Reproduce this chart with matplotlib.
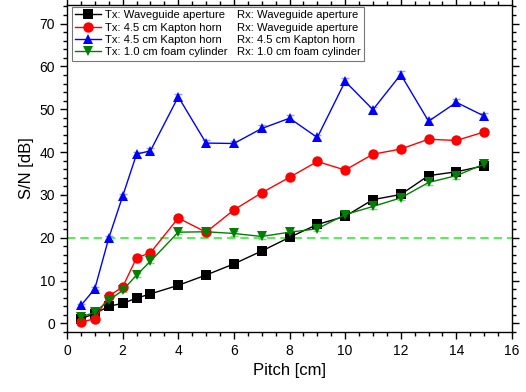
import matplotlib.pyplot as plt
from matplotlib.lines import Line2D
from matplotlib.ticker import MultipleLocator

plt.rcParams['font.family'] = ['Liberation Sans', 'DejaVu Sans']

pitch = [0.5, 1, 1.5, 2, 2.5, 3, 4, 5, 6, 7, 8, 9, 10, 11, 12, 13, 14, 15]

sn_waveguide = [1.1, 2.3, 4.0, 4.7, 5.9, 6.9, 8.9, 11.3, 13.9, 16.9, 20.1, 23.1, 25.0, 28.9, 30.1, 34.5, 35.4, 36.8]
sn_kapton_wg = [0.3, 1.1, 6.4, 8.5, 15.3, 16.5, 24.6, 21.3, 26.5, 30.5, 34.1, 37.8, 35.8, 39.5, 40.7, 43.0, 42.7, 44.7]
sn_kapton_kapton = [4.2, 8.1, 19.9, 29.7, 39.5, 40.3, 52.9, 42.1, 42.0, 45.5, 47.9, 43.4, 56.5, 49.9, 58.1, 47.2, 51.6, 48.4]
sn_foam = [1.5, 2.6, 5.4, 7.7, 11.3, 14.5, 21.3, 21.4, 21.0, 20.3, 21.3, 22.1, 25.4, 27.3, 29.3, 32.9, 34.5, 37.2]

err_waveguide = [0.4, 0.4, 0.4, 0.4, 0.4, 0.4, 0.4, 0.4, 0.4, 0.4, 0.5, 0.5, 0.5, 0.6, 0.6, 0.6, 0.6, 0.7]
err_kapton_wg = [0.4, 0.4, 0.4, 0.4, 0.4, 0.4, 0.5, 0.5, 0.5, 0.5, 0.6, 0.6, 0.6, 0.6, 0.6, 0.6, 0.6, 0.7]
err_kapton_kapton = [0.4, 0.4, 0.5, 0.5, 0.6, 0.6, 0.7, 0.6, 0.6, 0.7, 0.7, 0.6, 0.8, 0.7, 0.8, 0.7, 0.7, 0.7]
err_foam = [0.4, 0.4, 0.4, 0.4, 0.4, 0.5, 0.5, 0.5, 0.5, 0.5, 0.5, 0.6, 0.6, 0.6, 0.6, 0.7, 0.7, 0.8]

tx_labels = ["Tx: Waveguide aperture", "Tx: 4.5 cm Kapton horn",
             "Tx: 4.5 cm Kapton horn", "Tx: 1.0 cm foam cylinder"]
rx_labels = ["Rx: Waveguide aperture", "Rx: Waveguide aperture",
             "Rx: 4.5 cm Kapton horn", "Rx: 1.0 cm foam cylinder"]

threshold = 20

fig = plt.figure(figsize=(5.26, 3.92), dpi=100)
ax = fig.add_axes([0.1274, 0.153, 0.846, 0.834])

series = [
    (sn_waveguide, err_waveguide, 'black', '#888888', 's', 6.5),
    (sn_kapton_wg, err_kapton_wg, 'red', '#ff9999', 'o', 7.5),
    (sn_kapton_kapton, err_kapton_kapton, 'blue', '#9999ff', '^', 7.5),
    (sn_foam, err_foam, 'green', '#88cc88', 'v', 7.5),
]

handles = []
for (vals, errs, col, ecol, mk, ms), lab in zip(series, tx_labels):
    ax.errorbar(pitch, vals, yerr=errs, fmt='none', ecolor=ecol, elinewidth=1,
                capsize=3, capthick=1, zorder=2)
    h, = ax.plot(pitch, vals, color=col, marker=mk, markersize=ms, lw=1,
                 markeredgewidth=0, zorder=3, label=lab)
    handles.append(h)

ax.axhline(threshold, color='#33ee33', ls=(0, (5, 3)), lw=1.2, zorder=1)

ax.set_xlim(0, 16)
ax.set_ylim(-2, 74.3)
ax.xaxis.set_major_locator(MultipleLocator(2))
ax.xaxis.set_minor_locator(MultipleLocator(0.5))
ax.yaxis.set_major_locator(MultipleLocator(10))
ax.yaxis.set_minor_locator(MultipleLocator(2))
ax.tick_params(which='both', direction='out', top=True, right=True, labelsize=10)
ax.tick_params(which='major', length=5, width=1)
ax.tick_params(which='minor', length=3, width=1)
for s in ax.spines.values():
    s.set_linewidth(1)

ax.set_xlabel("Pitch [cm]", fontsize=12)
ax.set_ylabel("S/N [dB]", fontsize=12)

blank = [Line2D([], [], lw=0, marker=None) for _ in rx_labels]
leg = ax.legend(handles + blank, tx_labels + rx_labels, ncol=2, loc='upper left',
                bbox_to_anchor=(0.011, 0.994), borderaxespad=0,
                fontsize=8.1, frameon=True, fancybox=False, edgecolor='#555555',
                handlelength=2.3, handletextpad=0.3, columnspacing=-1.75,
                borderpad=0.3, labelspacing=0.2)
leg.get_frame().set_linewidth(0.8)

fig.savefig("out.png", dpi=100)
